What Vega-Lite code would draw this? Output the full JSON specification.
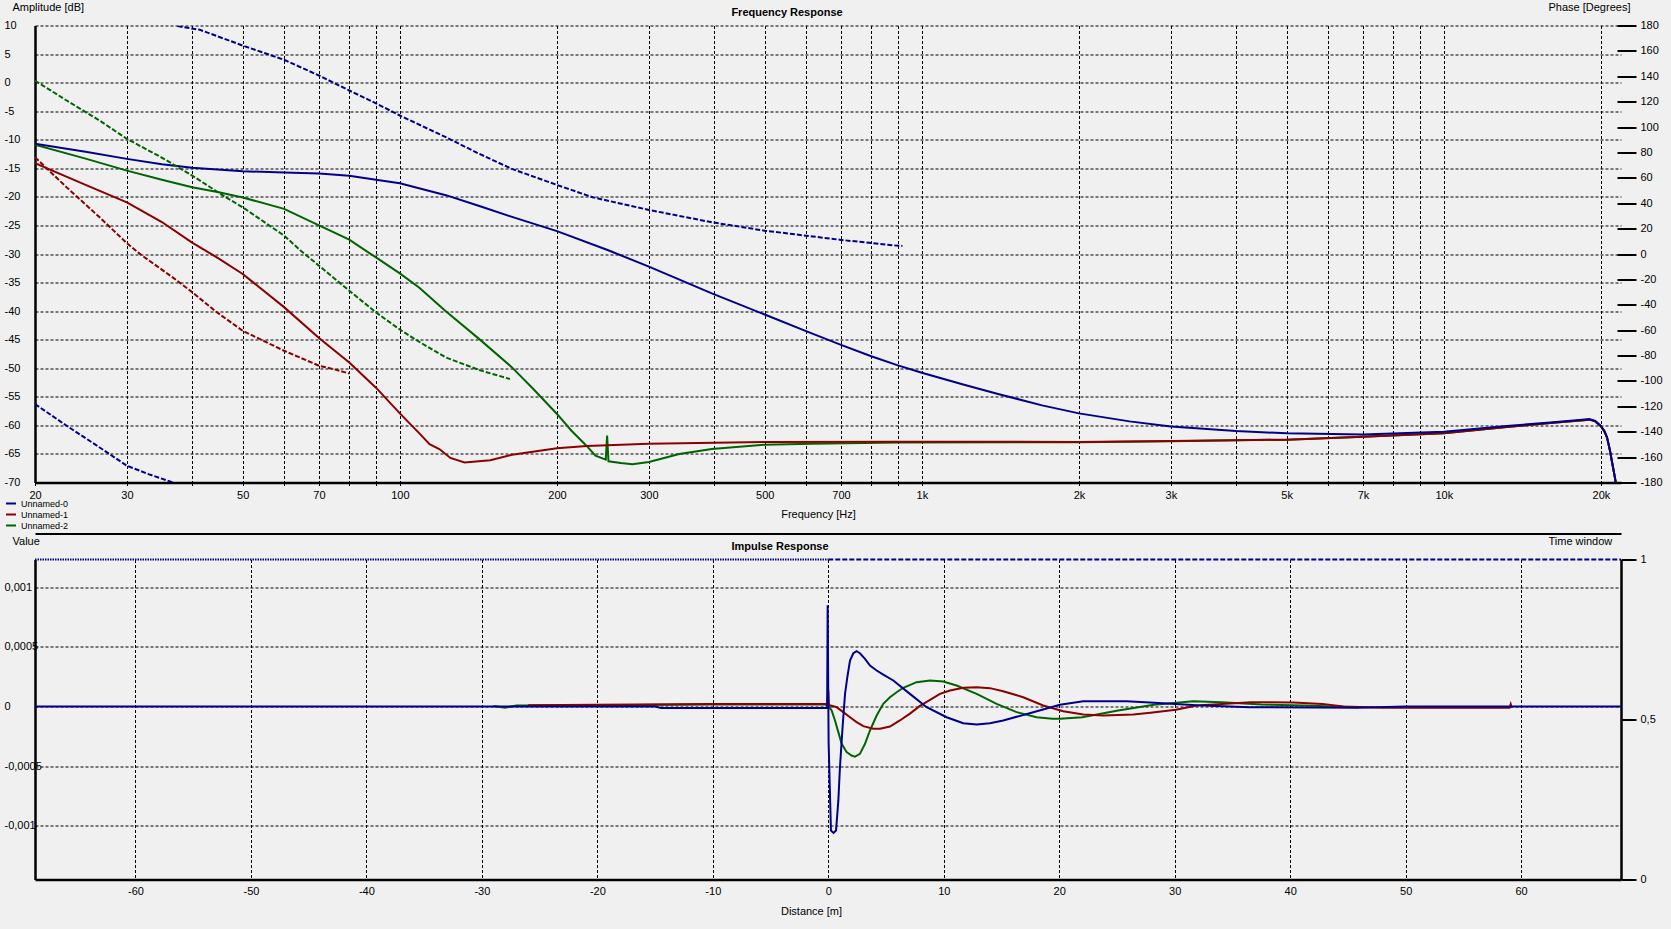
{
  "$schema": "https://vega.github.io/schema/vega-lite/v6.json",
  "background": "#f0f0f0",
  "padding": {"left": 4, "top": 1.5, "right": 8, "bottom": 15},
  "config": {
    "font": "Liberation Sans",
    "view": {"stroke": null},
    "axis": {
      "labelFont": "Liberation Sans", "labelFontSize": 11, "labelColor": "#000000",
      "titleFont": "Liberation Sans", "titleFontSize": 11, "titleFontWeight": "normal", "titleColor": "#000000",
      "domainColor": "#000000", "tickColor": "#000000",
      "gridColor": "#000000", "gridDash": [3, 2], "gridWidth": 1, "gridOpacity": 1,
      "labelFlush": false, "labelOverlap": false, "labelBound": false
    },
    "legend": {"labelFont": "Liberation Sans", "labelFontSize": 9, "labelColor": "#000000"},
    "title": {"font": "Liberation Sans", "fontSize": 11, "fontWeight": "bold", "color": "#000000"}
  },
  "datasets": {
    "amp": [
      {"s": "Unnamed-2", "f": 20, "db": -10.85}, {"s": "Unnamed-2", "f": 25, "db": -13.3}, {"s": "Unnamed-2", "f": 30, "db": -15.4}, {"s": "Unnamed-2", "f": 35, "db": -17.0}, {"s": "Unnamed-2", "f": 40, "db": -18.3}, {"s": "Unnamed-2", "f": 45, "db": -19.2}, {"s": "Unnamed-2", "f": 50, "db": -20.1}, {"s": "Unnamed-2", "f": 60, "db": -22.1}, {"s": "Unnamed-2", "f": 70, "db": -25.0}, {"s": "Unnamed-2", "f": 80, "db": -27.5}, {"s": "Unnamed-2", "f": 86, "db": -29.4}, {"s": "Unnamed-2", "f": 90, "db": -30.6}, {"s": "Unnamed-2", "f": 100, "db": -33.4}, {"s": "Unnamed-2", "f": 109, "db": -35.9}, {"s": "Unnamed-2", "f": 122, "db": -39.9}, {"s": "Unnamed-2", "f": 142, "db": -44.9}, {"s": "Unnamed-2", "f": 164, "db": -49.85}, {"s": "Unnamed-2", "f": 180, "db": -53.6}, {"s": "Unnamed-2", "f": 200, "db": -58.0}, {"s": "Unnamed-2", "f": 213, "db": -60.9}, {"s": "Unnamed-2", "f": 228, "db": -63.6}, {"s": "Unnamed-2", "f": 237, "db": -65.3}, {"s": "Unnamed-2", "f": 248, "db": -66.0}, {"s": "Unnamed-2", "f": 249.5, "db": -61.8}, {"s": "Unnamed-2", "f": 251, "db": -66.3}, {"s": "Unnamed-2", "f": 265, "db": -66.6}, {"s": "Unnamed-2", "f": 279, "db": -66.8}, {"s": "Unnamed-2", "f": 300, "db": -66.4}, {"s": "Unnamed-2", "f": 343, "db": -65.0}, {"s": "Unnamed-2", "f": 396, "db": -64.15}, {"s": "Unnamed-2", "f": 500, "db": -63.4}, {"s": "Unnamed-2", "f": 615, "db": -63.2}, {"s": "Unnamed-2", "f": 900, "db": -63.0}, {"s": "Unnamed-2", "f": 2000, "db": -62.95}, {"s": "Unnamed-2", "f": 3000, "db": -62.8}, {"s": "Unnamed-2", "f": 5000, "db": -62.5}, {"s": "Unnamed-2", "f": 7000, "db": -62.0}, {"s": "Unnamed-2", "f": 10000, "db": -61.4}, {"s": "Unnamed-2", "f": 13200, "db": -60.3}, {"s": "Unnamed-2", "f": 16000, "db": -59.6}, {"s": "Unnamed-2", "f": 19000, "db": -59.0}, {"s": "Unnamed-2", "f": 19500, "db": -59.3}, {"s": "Unnamed-2", "f": 19980, "db": -60.1}, {"s": "Unnamed-2", "f": 20300, "db": -61.0}, {"s": "Unnamed-2", "f": 20540, "db": -62.1}, {"s": "Unnamed-2", "f": 20800, "db": -64.3}, {"s": "Unnamed-2", "f": 20980, "db": -66.2}, {"s": "Unnamed-2", "f": 21200, "db": -68.4}, {"s": "Unnamed-2", "f": 21380, "db": -70.3},
      {"s": "Unnamed-1", "f": 20, "db": -14.1}, {"s": "Unnamed-1", "f": 25, "db": -17.9}, {"s": "Unnamed-1", "f": 30, "db": -20.95}, {"s": "Unnamed-1", "f": 35, "db": -24.4}, {"s": "Unnamed-1", "f": 40, "db": -28.0}, {"s": "Unnamed-1", "f": 45, "db": -30.8}, {"s": "Unnamed-1", "f": 50, "db": -33.5}, {"s": "Unnamed-1", "f": 60, "db": -39.3}, {"s": "Unnamed-1", "f": 70, "db": -44.7}, {"s": "Unnamed-1", "f": 80, "db": -49.0}, {"s": "Unnamed-1", "f": 90, "db": -53.4}, {"s": "Unnamed-1", "f": 100, "db": -57.9}, {"s": "Unnamed-1", "f": 109, "db": -61.4}, {"s": "Unnamed-1", "f": 114, "db": -63.3}, {"s": "Unnamed-1", "f": 119, "db": -64.15}, {"s": "Unnamed-1", "f": 125, "db": -65.7}, {"s": "Unnamed-1", "f": 133, "db": -66.5}, {"s": "Unnamed-1", "f": 149, "db": -66.1}, {"s": "Unnamed-1", "f": 164, "db": -65.15}, {"s": "Unnamed-1", "f": 200, "db": -64.0}, {"s": "Unnamed-1", "f": 228, "db": -63.6}, {"s": "Unnamed-1", "f": 300, "db": -63.2}, {"s": "Unnamed-1", "f": 500, "db": -62.9}, {"s": "Unnamed-1", "f": 900, "db": -62.85}, {"s": "Unnamed-1", "f": 2000, "db": -62.9}, {"s": "Unnamed-1", "f": 3000, "db": -62.75}, {"s": "Unnamed-1", "f": 5000, "db": -62.5}, {"s": "Unnamed-1", "f": 7000, "db": -62.0}, {"s": "Unnamed-1", "f": 10000, "db": -61.4}, {"s": "Unnamed-1", "f": 13200, "db": -60.3}, {"s": "Unnamed-1", "f": 16000, "db": -59.6}, {"s": "Unnamed-1", "f": 19000, "db": -59.0}, {"s": "Unnamed-1", "f": 19500, "db": -59.3}, {"s": "Unnamed-1", "f": 19980, "db": -60.1}, {"s": "Unnamed-1", "f": 20300, "db": -61.0}, {"s": "Unnamed-1", "f": 20540, "db": -62.1}, {"s": "Unnamed-1", "f": 20800, "db": -64.3}, {"s": "Unnamed-1", "f": 20980, "db": -66.2}, {"s": "Unnamed-1", "f": 21200, "db": -68.4}, {"s": "Unnamed-1", "f": 21380, "db": -70.3},
      {"s": "Unnamed-0", "f": 20, "db": -10.7}, {"s": "Unnamed-0", "f": 25, "db": -12.1}, {"s": "Unnamed-0", "f": 30, "db": -13.35}, {"s": "Unnamed-0", "f": 35, "db": -14.3}, {"s": "Unnamed-0", "f": 40, "db": -14.9}, {"s": "Unnamed-0", "f": 50, "db": -15.5}, {"s": "Unnamed-0", "f": 60, "db": -15.75}, {"s": "Unnamed-0", "f": 70, "db": -15.9}, {"s": "Unnamed-0", "f": 80, "db": -16.3}, {"s": "Unnamed-0", "f": 90, "db": -17.0}, {"s": "Unnamed-0", "f": 100, "db": -17.6}, {"s": "Unnamed-0", "f": 122.5, "db": -19.7}, {"s": "Unnamed-0", "f": 142, "db": -21.6}, {"s": "Unnamed-0", "f": 164, "db": -23.5}, {"s": "Unnamed-0", "f": 200, "db": -26.0}, {"s": "Unnamed-0", "f": 250, "db": -29.3}, {"s": "Unnamed-0", "f": 300, "db": -32.2}, {"s": "Unnamed-0", "f": 396, "db": -36.9}, {"s": "Unnamed-0", "f": 500, "db": -40.6}, {"s": "Unnamed-0", "f": 600, "db": -43.5}, {"s": "Unnamed-0", "f": 700, "db": -45.9}, {"s": "Unnamed-0", "f": 800, "db": -47.9}, {"s": "Unnamed-0", "f": 900, "db": -49.5}, {"s": "Unnamed-0", "f": 1000, "db": -50.8}, {"s": "Unnamed-0", "f": 1200, "db": -52.85}, {"s": "Unnamed-0", "f": 1400, "db": -54.5}, {"s": "Unnamed-0", "f": 1700, "db": -56.5}, {"s": "Unnamed-0", "f": 2000, "db": -57.9}, {"s": "Unnamed-0", "f": 2500, "db": -59.3}, {"s": "Unnamed-0", "f": 3000, "db": -60.2}, {"s": "Unnamed-0", "f": 4000, "db": -61.0}, {"s": "Unnamed-0", "f": 5000, "db": -61.4}, {"s": "Unnamed-0", "f": 7000, "db": -61.6}, {"s": "Unnamed-0", "f": 10000, "db": -61.1}, {"s": "Unnamed-0", "f": 13200, "db": -60.1}, {"s": "Unnamed-0", "f": 16000, "db": -59.5}, {"s": "Unnamed-0", "f": 18400, "db": -59.0}, {"s": "Unnamed-0", "f": 19000, "db": -58.9}, {"s": "Unnamed-0", "f": 19500, "db": -59.2}, {"s": "Unnamed-0", "f": 19980, "db": -60.1}, {"s": "Unnamed-0", "f": 20300, "db": -61.0}, {"s": "Unnamed-0", "f": 20540, "db": -62.1}, {"s": "Unnamed-0", "f": 20800, "db": -64.3}, {"s": "Unnamed-0", "f": 20980, "db": -66.2}, {"s": "Unnamed-0", "f": 21200, "db": -68.4}, {"s": "Unnamed-0", "f": 21380, "db": -70.3}
    ],
    "phase": [
      {"s": "Unnamed-2", "g": "2", "f": 20, "deg": 136.6}, {"s": "Unnamed-2", "g": "2", "f": 23, "deg": 120.9}, {"s": "Unnamed-2", "g": "2", "f": 26.6, "deg": 105.1}, {"s": "Unnamed-2", "g": "2", "f": 30, "deg": 90.7}, {"s": "Unnamed-2", "g": "2", "f": 34.9, "deg": 76.2}, {"s": "Unnamed-2", "g": "2", "f": 40, "deg": 61.8}, {"s": "Unnamed-2", "g": "2", "f": 46.4, "deg": 44.7}, {"s": "Unnamed-2", "g": "2", "f": 50, "deg": 36.8}, {"s": "Unnamed-2", "g": "2", "f": 60, "deg": 14.5}, {"s": "Unnamed-2", "g": "2", "f": 64.6, "deg": 2.6}, {"s": "Unnamed-2", "g": "2", "f": 70, "deg": -9.2}, {"s": "Unnamed-2", "g": "2", "f": 80, "deg": -28.9}, {"s": "Unnamed-2", "g": "2", "f": 90, "deg": -46.0}, {"s": "Unnamed-2", "g": "2", "f": 100, "deg": -59.5}, {"s": "Unnamed-2", "g": "2", "f": 107, "deg": -67.3}, {"s": "Unnamed-2", "g": "2", "f": 122.5, "deg": -81.5}, {"s": "Unnamed-2", "g": "2", "f": 141.9, "deg": -91.4}, {"s": "Unnamed-2", "g": "2", "f": 162.5, "deg": -98.5},
      {"s": "Unnamed-1", "g": "1", "f": 20, "deg": 76.2}, {"s": "Unnamed-1", "g": "1", "f": 23, "deg": 52.5}, {"s": "Unnamed-1", "g": "1", "f": 26.6, "deg": 28.9}, {"s": "Unnamed-1", "g": "1", "f": 30, "deg": 8.5}, {"s": "Unnamed-1", "g": "1", "f": 31.9, "deg": -0.5}, {"s": "Unnamed-1", "g": "1", "f": 36.7, "deg": -18.4}, {"s": "Unnamed-1", "g": "1", "f": 40, "deg": -30.0}, {"s": "Unnamed-1", "g": "1", "f": 44.3, "deg": -45.0}, {"s": "Unnamed-1", "g": "1", "f": 50, "deg": -60.5}, {"s": "Unnamed-1", "g": "1", "f": 60, "deg": -76.2}, {"s": "Unnamed-1", "g": "1", "f": 70, "deg": -88.0}, {"s": "Unnamed-1", "g": "1", "f": 74.5, "deg": -90.6}, {"s": "Unnamed-1", "g": "1", "f": 80, "deg": -94.1},
      {"s": "Unnamed-0", "g": "0a", "f": 20, "deg": -118.2}, {"s": "Unnamed-0", "g": "0a", "f": 23, "deg": -135.3}, {"s": "Unnamed-0", "g": "0a", "f": 26.6, "deg": -152.4}, {"s": "Unnamed-0", "g": "0a", "f": 30, "deg": -166.8}, {"s": "Unnamed-0", "g": "0a", "f": 33, "deg": -173.4}, {"s": "Unnamed-0", "g": "0a", "f": 36.8, "deg": -180},
      {"s": "Unnamed-0", "g": "0b", "f": 37.5, "deg": 179.5}, {"s": "Unnamed-0", "g": "0b", "f": 41.4, "deg": 176.6}, {"s": "Unnamed-0", "g": "0b", "f": 50, "deg": 164.2}, {"s": "Unnamed-0", "g": "0b", "f": 60, "deg": 153.0}, {"s": "Unnamed-0", "g": "0b", "f": 70, "deg": 140.6}, {"s": "Unnamed-0", "g": "0b", "f": 80, "deg": 128.8}, {"s": "Unnamed-0", "g": "0b", "f": 90, "deg": 118.7}, {"s": "Unnamed-0", "g": "0b", "f": 100, "deg": 109.1}, {"s": "Unnamed-0", "g": "0b", "f": 122.5, "deg": 92.0}, {"s": "Unnamed-0", "g": "0b", "f": 142, "deg": 78.9}, {"s": "Unnamed-0", "g": "0b", "f": 164, "deg": 67.0}, {"s": "Unnamed-0", "g": "0b", "f": 200, "deg": 54.4}, {"s": "Unnamed-0", "g": "0b", "f": 234, "deg": 44.7}, {"s": "Unnamed-0", "g": "0b", "f": 300, "deg": 34.7}, {"s": "Unnamed-0", "g": "0b", "f": 396, "deg": 25.0}, {"s": "Unnamed-0", "g": "0b", "f": 500, "deg": 18.4}, {"s": "Unnamed-0", "g": "0b", "f": 700, "deg": 11.1}, {"s": "Unnamed-0", "g": "0b", "f": 895, "deg": 6.6}, {"s": "Unnamed-0", "g": "0b", "f": 918, "deg": 6.4}
    ],
    "imp": [
      {"s": "Unnamed-2", "d": -29, "v": 0.000005}, {"s": "Unnamed-2", "d": -28, "v": -0.00001}, {"s": "Unnamed-2", "d": -27, "v": 0.000008}, {"s": "Unnamed-2", "d": -20, "v": 0.00001}, {"s": "Unnamed-2", "d": -10, "v": 0.000017}, {"s": "Unnamed-2", "d": -0.3, "v": 0.000017}, {"s": "Unnamed-2", "d": 0, "v": 0.0000084}, {"s": "Unnamed-2", "d": 0.29, "v": -0.0000336}, {"s": "Unnamed-2", "d": 0.58, "v": -0.000117}, {"s": "Unnamed-2", "d": 0.87, "v": -0.000215}, {"s": "Unnamed-2", "d": 1.16, "v": -0.000313}, {"s": "Unnamed-2", "d": 1.59, "v": -0.000383}, {"s": "Unnamed-2", "d": 2.02, "v": -0.000411}, {"s": "Unnamed-2", "d": 2.31, "v": -0.00042}, {"s": "Unnamed-2", "d": 2.74, "v": -0.000397}, {"s": "Unnamed-2", "d": 3.18, "v": -0.000313}, {"s": "Unnamed-2", "d": 3.61, "v": -0.000201}, {"s": "Unnamed-2", "d": 4.19, "v": -0.0000755}, {"s": "Unnamed-2", "d": 4.76, "v": 0.0000224}, {"s": "Unnamed-2", "d": 5.34, "v": 0.0000783}, {"s": "Unnamed-2", "d": 5.92, "v": 0.00012}, {"s": "Unnamed-2", "d": 6.49, "v": 0.000157}, {"s": "Unnamed-2", "d": 7.65, "v": 0.000204}, {"s": "Unnamed-2", "d": 8.81, "v": 0.000218}, {"s": "Unnamed-2", "d": 9.96, "v": 0.00021}, {"s": "Unnamed-2", "d": 11.11, "v": 0.000176}, {"s": "Unnamed-2", "d": 12.85, "v": 0.000106}, {"s": "Unnamed-2", "d": 14.58, "v": 0.0000224}, {"s": "Unnamed-2", "d": 16.31, "v": -0.0000475}, {"s": "Unnamed-2", "d": 18.04, "v": -0.00009}, {"s": "Unnamed-2", "d": 19.4, "v": -0.000103}, {"s": "Unnamed-2", "d": 20.06, "v": -0.000103}, {"s": "Unnamed-2", "d": 22.0, "v": -0.00009}, {"s": "Unnamed-2", "d": 25.1, "v": -0.000034}, {"s": "Unnamed-2", "d": 28.2, "v": 0.000014}, {"s": "Unnamed-2", "d": 31.6, "v": 0.000045}, {"s": "Unnamed-2", "d": 34.1, "v": 0.000036}, {"s": "Unnamed-2", "d": 37.5, "v": 0.000017}, {"s": "Unnamed-2", "d": 41.2, "v": 0.000008}, {"s": "Unnamed-2", "d": 45.9, "v": -0.000006},
      {"s": "Unnamed-1", "d": -26, "v": 0.00001}, {"s": "Unnamed-1", "d": -20, "v": 0.000015}, {"s": "Unnamed-1", "d": -10, "v": 0.00002}, {"s": "Unnamed-1", "d": -0.1, "v": 0.000022}, {"s": "Unnamed-1", "d": 0, "v": 0.000134}, {"s": "Unnamed-1", "d": 0.05, "v": 0.00001}, {"s": "Unnamed-1", "d": 0.29, "v": 0.0000056}, {"s": "Unnamed-1", "d": 0.72, "v": -0.0000056}, {"s": "Unnamed-1", "d": 1.3, "v": -0.0000475}, {"s": "Unnamed-1", "d": 1.88, "v": -0.00009}, {"s": "Unnamed-1", "d": 2.45, "v": -0.000131}, {"s": "Unnamed-1", "d": 3.03, "v": -0.000165}, {"s": "Unnamed-1", "d": 3.9, "v": -0.000187}, {"s": "Unnamed-1", "d": 4.48, "v": -0.000187}, {"s": "Unnamed-1", "d": 5.34, "v": -0.000168}, {"s": "Unnamed-1", "d": 6.2, "v": -0.000117}, {"s": "Unnamed-1", "d": 7.07, "v": -0.00006}, {"s": "Unnamed-1", "d": 7.94, "v": 0.0000056}, {"s": "Unnamed-1", "d": 8.81, "v": 0.000056}, {"s": "Unnamed-1", "d": 9.67, "v": 0.000106}, {"s": "Unnamed-1", "d": 10.54, "v": 0.000134}, {"s": "Unnamed-1", "d": 11.69, "v": 0.000157}, {"s": "Unnamed-1", "d": 12.85, "v": 0.000162}, {"s": "Unnamed-1", "d": 14.0, "v": 0.000154}, {"s": "Unnamed-1", "d": 15.15, "v": 0.000128}, {"s": "Unnamed-1", "d": 16.88, "v": 0.000078}, {"s": "Unnamed-1", "d": 18.61, "v": 0.0000084}, {"s": "Unnamed-1", "d": 20.35, "v": -0.000039}, {"s": "Unnamed-1", "d": 22.08, "v": -0.000067}, {"s": "Unnamed-1", "d": 23.82, "v": -0.000076}, {"s": "Unnamed-1", "d": 26.41, "v": -0.000067}, {"s": "Unnamed-1", "d": 27.9, "v": -0.000053}, {"s": "Unnamed-1", "d": 30.1, "v": -0.000028}, {"s": "Unnamed-1", "d": 31.9, "v": 0.000008}, {"s": "Unnamed-1", "d": 34.1, "v": 0.000022}, {"s": "Unnamed-1", "d": 36.6, "v": 0.000036}, {"s": "Unnamed-1", "d": 40.3, "v": 0.000034}, {"s": "Unnamed-1", "d": 42.8, "v": 0.000022}, {"s": "Unnamed-1", "d": 44.6, "v": 0}, {"s": "Unnamed-1", "d": 48.1, "v": -0.000011}, {"s": "Unnamed-1", "d": 52.1, "v": -0.00001}, {"s": "Unnamed-1", "d": 59.0, "v": -0.00001}, {"s": "Unnamed-1", "d": 59.1, "v": 0.00002}, {"s": "Unnamed-1", "d": 59.2, "v": -0.00001},
      {"s": "Unnamed-0", "d": -68.7, "v": 0}, {"s": "Unnamed-0", "d": -15, "v": 0}, {"s": "Unnamed-0", "d": -14.5, "v": -0.000012}, {"s": "Unnamed-0", "d": -0.1, "v": -0.000012}, {"s": "Unnamed-0", "d": -0.055, "v": 0.00085}, {"s": "Unnamed-0", "d": 0.03, "v": -0.00031}, {"s": "Unnamed-0", "d": 0.23, "v": -0.00104}, {"s": "Unnamed-0", "d": 0.45, "v": -0.00106}, {"s": "Unnamed-0", "d": 0.67, "v": -0.00104}, {"s": "Unnamed-0", "d": 0.87, "v": -0.00079}, {"s": "Unnamed-0", "d": 1.01, "v": -0.00051}, {"s": "Unnamed-0", "d": 1.24, "v": -0.00017}, {"s": "Unnamed-0", "d": 1.45, "v": 0.000106}, {"s": "Unnamed-0", "d": 1.65, "v": 0.000246}, {"s": "Unnamed-0", "d": 1.88, "v": 0.000386}, {"s": "Unnamed-0", "d": 2.17, "v": 0.000447}, {"s": "Unnamed-0", "d": 2.45, "v": 0.000464}, {"s": "Unnamed-0", "d": 2.74, "v": 0.000447}, {"s": "Unnamed-0", "d": 3.18, "v": 0.0004}, {"s": "Unnamed-0", "d": 3.61, "v": 0.000344}, {"s": "Unnamed-0", "d": 4.19, "v": 0.000302}, {"s": "Unnamed-0", "d": 4.76, "v": 0.000268}, {"s": "Unnamed-0", "d": 5.63, "v": 0.000218}, {"s": "Unnamed-0", "d": 7.07, "v": 0.000106}, {"s": "Unnamed-0", "d": 8.52, "v": -0.000006}, {"s": "Unnamed-0", "d": 10.25, "v": -0.00009}, {"s": "Unnamed-0", "d": 11.69, "v": -0.00014}, {"s": "Unnamed-0", "d": 12.85, "v": -0.000151}, {"s": "Unnamed-0", "d": 14.0, "v": -0.00014}, {"s": "Unnamed-0", "d": 15.15, "v": -0.000117}, {"s": "Unnamed-0", "d": 17.75, "v": -0.000048}, {"s": "Unnamed-0", "d": 20.06, "v": 0.000014}, {"s": "Unnamed-0", "d": 22.08, "v": 0.000045}, {"s": "Unnamed-0", "d": 25.83, "v": 0.000045}, {"s": "Unnamed-0", "d": 27.85, "v": 0.000034}, {"s": "Unnamed-0", "d": 31.9, "v": 0.00001}, {"s": "Unnamed-0", "d": 36.5, "v": -0.000006}, {"s": "Unnamed-0", "d": 45.8, "v": -0.00001}, {"s": "Unnamed-0", "d": 50, "v": 0}, {"s": "Unnamed-0", "d": 68.65, "v": 0}
    ],
    "tw": [
      {"p": "a", "d": -68.7, "w": 1}, {"p": "a", "d": 0, "w": 1},
      {"p": "b", "d": 0, "w": 1}, {"p": "b", "d": 68.65, "w": 1}
    ]
  },
  "bounds": "flush",
  "spacing": 77,
  "resolve": {"scale": {"color": "independent"}, "legend": {"color": "independent"}},
  "vconcat": [
    {
      "width": 1586,
      "height": 457,
      "title": {"text": "Frequency Response", "anchor": "middle", "frame": "group", "dx": -41, "offset": -22.5, "baseline": "middle"},
      "layer": [
        {
          "data": {"name": "amp"},
          "mark": {"type": "line", "strokeWidth": 2, "clip": true},
          "encoding": {
            "x": {
              "field": "f", "type": "quantitative",
              "scale": {"type": "log", "domain": [20, 21850], "nice": false},
              "axis": {
                "orient": "bottom",
                "values": [20, 30, 40, 50, 60, 70, 80, 90, 100, 200, 300, 400, 500, 600, 700, 800, 900, 1000, 2000, 3000, 4000, 5000, 6000, 7000, 8000, 9000, 10000, 20000],
                "grid": true, "ticks": true, "tickSize": 5, "tickDash": [3, 2], "domainWidth": 2.5, "labelPadding": 2,
                "labelExpr": "indexof([20,30,50,70,100,200,300,500,700,1000,2000,3000,5000,7000,10000,20000], datum.value) < 0 ? '' : (datum.value >= 1000 ? (datum.value / 1000) + 'k' : '' + datum.value)",
                "title": "Frequency [Hz]", "titleX": 783, "titleY": 32, "titleBaseline": "middle", "titleAlign": "center"
              }
            },
            "y": {
              "field": "db", "type": "quantitative",
              "scale": {"domain": [-70, 10], "nice": false, "zero": false},
              "axis": {
                "orient": "left",
                "values": [-70, -65, -60, -55, -50, -45, -40, -35, -30, -25, -20, -15, -10, -5, 0, 5, 10],
                "grid": true, "ticks": false, "tickSize": 0, "domainWidth": 2.5,
                "labelAlign": "left", "labelPadding": 31, "labelBaseline": "middle",
                "labelExpr": "'' + datum.value",
                "title": "Amplitude [dB]", "titleAngle": 0, "titleAlign": "left", "titleBaseline": "middle", "titleX": -23, "titleY": -18
              }
            },
            "color": {
              "field": "s", "type": "nominal",
              "scale": {"domain": ["Unnamed-0", "Unnamed-1", "Unnamed-2"], "range": ["#00008b", "#8b0000", "#006400"]},
              "legend": {"orient": "none", "legendX": -30, "legendY": 472, "title": null, "symbolType": "stroke", "symbolSize": 100, "symbolStrokeWidth": 2, "rowPadding": 0, "padding": 0, "labelOffset": 4}
            }
          }
        },
        {
          "data": {"name": "phase"},
          "mark": {"type": "line", "strokeWidth": 2, "strokeDash": [5, 2], "clip": true},
          "encoding": {
            "x": {
              "field": "f", "type": "quantitative",
              "axis": {"orient": "bottom", "offset": 51, "labels": false, "ticks": false, "grid": false, "domain": true, "domainWidth": 2, "title": null}
            },
            "y": {
              "field": "deg", "type": "quantitative",
              "scale": {"domain": [-180, 180], "nice": false, "zero": false},
              "axis": {
                "orient": "right",
                "values": [-180, -160, -140, -120, -100, -80, -60, -40, -20, 0, 20, 40, 60, 80, 100, 120, 140, 160, 180],
                "grid": false, "domain": false, "ticks": true, "tickSize": 19, "tickWidth": 2, "offset": -4, "labelPadding": 4,
                "labelExpr": "'' + datum.value",
                "title": "Phase [Degrees]", "titleAngle": 0, "titleAlign": "left", "titleBaseline": "middle", "titleX": -69, "titleY": -18
              }
            },
            "color": {"field": "s", "type": "nominal"},
            "detail": {"field": "g", "type": "nominal"}
          }
        }
      ],
      "resolve": {"scale": {"y": "independent"}, "axis": {"x": "independent", "y": "independent"}}
    },
    {
      "width": 1586,
      "height": 320,
      "title": {"text": "Impulse Response", "anchor": "middle", "frame": "group", "dx": -48, "offset": -22.5, "baseline": "middle"},
      "layer": [
        {
          "data": {"name": "imp"},
          "mark": {"type": "line", "strokeWidth": 2, "clip": true},
          "encoding": {
            "x": {
              "field": "d", "type": "quantitative",
              "scale": {"domain": [-68.7, 68.65], "nice": false, "zero": false},
              "axis": {
                "orient": "bottom",
                "values": [-60, -50, -40, -30, -20, -10, 0, 10, 20, 30, 40, 50, 60],
                "grid": true, "ticks": false, "domainWidth": 2.5, "labelPadding": 6,
                "labelExpr": "'' + datum.value",
                "title": "Distance [m]", "titleX": 776, "titleY": 32, "titleBaseline": "middle", "titleAlign": "center"
              }
            },
            "y": {
              "field": "v", "type": "quantitative",
              "scale": {"domain": [-0.001451, 0.001233], "nice": false, "zero": false},
              "axis": {
                "orient": "left",
                "values": [-0.001, -0.0005, 0, 0.0005, 0.001],
                "grid": true, "ticks": false, "tickSize": 0, "domainWidth": 2.5,
                "labelAlign": "left", "labelPadding": 31, "labelBaseline": "middle",
                "labelExpr": "datum.value == 0 ? '0' : replace('' + datum.value, '.', ',')",
                "title": "Value", "titleAngle": 0, "titleAlign": "left", "titleBaseline": "middle", "titleX": -23, "titleY": -18
              }
            },
            "color": {
              "field": "s", "type": "nominal",
              "scale": {"domain": ["Unnamed-0", "Unnamed-1", "Unnamed-2"], "range": ["#00008b", "#8b0000", "#006400"]},
              "legend": null
            }
          }
        },
        {
          "data": {"name": "tw"},
          "mark": {"type": "line", "strokeWidth": 2, "color": "#00008b", "clip": false},
          "encoding": {
            "x": {"field": "d", "type": "quantitative"},
            "y": {
              "field": "w", "type": "quantitative",
              "scale": {"domain": [0, 1], "nice": false, "zero": false},
              "axis": {
                "orient": "right",
                "values": [0, 0.5, 1],
                "grid": false, "domain": true, "domainWidth": 2.5, "ticks": true, "tickSize": 15, "tickWidth": 2, "labelPadding": 4,
                "labelExpr": "replace('' + datum.value, '.', ',')",
                "title": "Time window", "titleAngle": 0, "titleAlign": "left", "titleBaseline": "middle", "titleX": -73, "titleY": -18
              }
            },
            "strokeDash": {"field": "p", "type": "nominal", "scale": {"domain": ["a", "b"], "range": [[1.5, 1], [5, 2]]}, "legend": null},
            "detail": {"field": "p", "type": "nominal"}
          }
        }
      ],
      "resolve": {"scale": {"y": "independent"}, "axis": {"y": "independent"}}
    }
  ]
}
